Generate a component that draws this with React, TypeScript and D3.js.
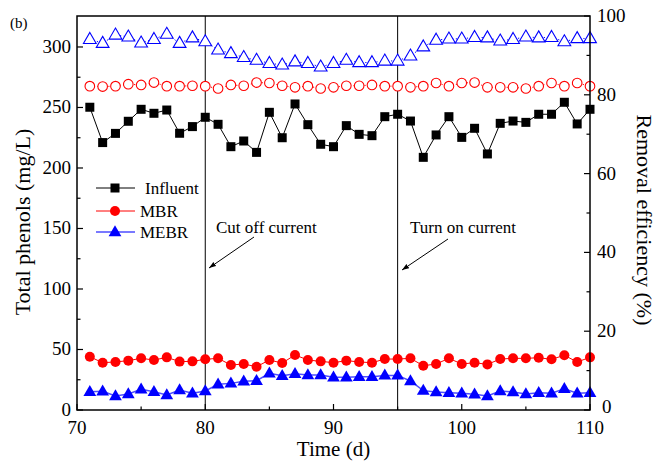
import React from "react";
import * as d3 from "d3";

const days = d3.range(71, 111);
const influent = [250.2, 221, 228.6, 238.6, 248.5, 245.2, 247.9, 228.7, 234.2, 241.9, 236.1, 217.6, 222.3, 212.9, 246, 225, 252.9, 235.8, 219.6, 217.6, 235, 227.8, 226.7, 242.4, 244.4, 238.8, 208.8, 227.3, 242.4, 225.3, 232.8, 211.6, 236.9, 238.8, 237.7, 244.4, 244.4, 254.3, 236.4, 248.5];
const mbr = [44, 39.1, 39.7, 40.8, 42.7, 41.3, 43.5, 40, 40.2, 41.9, 42.7, 37.2, 38, 35.8, 41.3, 38.8, 45.5, 41.3, 40.2, 39.1, 40.8, 39.7, 39.1, 42.1, 42.1, 42.7, 36.6, 38, 42.7, 38, 39.1, 37.7, 42.1, 42.7, 42.7, 43.2, 41.9, 45.2, 39.7, 43.5];
const mebr = [15.1, 15.4, 11.6, 13.2, 17.1, 15.1, 12.4, 16.5, 13.8, 15.7, 21.2, 22, 23.7, 24.2, 30.3, 28.3, 30, 28.9, 28.9, 27, 27, 27.5, 27.5, 28.6, 28.6, 24, 16, 14.9, 14.3, 13.8, 13, 11.6, 15.7, 14.9, 13.2, 14.3, 13.8, 17.6, 13.8, 14.3];
const mbrEff = [82.2, 82.1, 82.2, 82.7, 82.5, 83.1, 82.2, 82.2, 82.3, 82.2, 81.6, 82.5, 82.3, 83.1, 83, 82.3, 81.9, 82.2, 81.6, 81.9, 82.3, 82.3, 82.5, 82.2, 82.2, 81.9, 82.2, 83, 82.2, 83, 83.1, 81.9, 81.9, 81.9, 81.6, 82.2, 83, 82.2, 83, 82.2];
const mebrEff = [94.1, 93.1, 95.2, 94.7, 93.2, 94.1, 95.4, 93.1, 94.5, 93.5, 91.4, 90.5, 89.5, 88.8, 88, 87.6, 88.4, 88, 87.1, 88, 88.8, 88.2, 88.2, 88.6, 88.6, 89.9, 92.2, 93.9, 94.2, 94.2, 94.6, 94.5, 93.7, 94.1, 94.7, 94.5, 94.6, 93.5, 94.3, 94.3];

const xTicks = [70, 80, 90, 100, 110];
const xMinor = [75, 85, 95, 105];
const leftTicks = [0, 50, 100, 150, 200, 250, 300];
const leftMinor = [25, 75, 125, 175, 225, 275];
const rightTicks = [0, 20, 40, 60, 80, 100];
const rightMinor = [10, 30, 50, 70, 90];
const eventDays = [80, 95];
const legendLabels = ["Influent", "MBR", "MEBR"];

const W = 656, H = 468;
const L = 77, R = 590, T = 16, B = 410;
const FONT = "'Liberation Serif', 'Times New Roman', serif";

export default function App() {
  const x = d3.scaleLinear().domain([70, 110]).range([L, R]);
  const yL = d3.scaleLinear().domain([0, 325.6]).range([B, T]);
  const yR = d3.scaleLinear().domain([0, 100]).range([B, T]);

  const mkLine = (vals: number[], y: d3.ScaleLinear<number, number>) =>
    d3.line<number>().x((_, i) => x(days[i])).y((v) => y(v))(vals) || "";

  const tri = (cx: number, cy: number, s: number) =>
    `M${cx},${cy - s * 0.62}L${cx + s * 0.58},${cy + s * 0.38}L${cx - s * 0.58},${cy + s * 0.38}Z`;

  const blue = "#0000ff";
  const red = "#ff0000";

  return (
    <svg width={W} height={H} style={{ position: "absolute", left: 0, top: 0, background: "#fff" }} fontFamily={FONT}>
      <rect x={0} y={0} width={W} height={H} fill="#fff" />
      {eventDays.map((d) => (
        <line key={d} x1={x(d)} x2={x(d)} y1={T} y2={B} stroke="#000" strokeWidth={1} />
      ))}

      <path d={mkLine(mbrEff, yR)} fill="none" stroke={red} strokeWidth={1} strokeDasharray="1.2,2.5" />
      <path d={mkLine(mebrEff, yR)} fill="none" stroke={blue} strokeWidth={1} strokeDasharray="1.2,2.5" />
      {mbrEff.map((v, i) => (
        <circle key={"ce" + i} cx={x(days[i])} cy={yR(v)} r={4.8} fill="#fff" stroke={red} strokeWidth={1.1} />
      ))}
      {mebrEff.map((v, i) => (
        <path key={"te" + i} d={tri(x(days[i]), yR(v), 11)} fill="#fff" stroke={blue} strokeWidth={1.1} />
      ))}

      <path d={mkLine(influent, yL)} fill="none" stroke="#000" strokeWidth={1} />
      {influent.map((v, i) => (
        <rect key={"s" + i} x={x(days[i]) - 4.5} y={yL(v) - 4.5} width={9} height={9} fill="#000" />
      ))}
      <path d={mkLine(mbr, yL)} fill="none" stroke={red} strokeWidth={1} />
      {mbr.map((v, i) => (
        <circle key={"c" + i} cx={x(days[i])} cy={yL(v)} r={5} fill={red} />
      ))}
      <path d={mkLine(mebr, yL)} fill="none" stroke="#4d4dff" strokeWidth={1.5} />
      {mebr.map((v, i) => (
        <path key={"t" + i} d={tri(x(days[i]), yL(v), 11)} fill={blue} />
      ))}

      <rect x={L} y={T} width={R - L} height={B - T} fill="none" stroke="#000" strokeWidth={1.5} />

      {xTicks.map((t) => (
        <g key={"xt" + t}>
          <line x1={x(t)} x2={x(t)} y1={B} y2={B - 6} stroke="#000" strokeWidth={1.2} />
          <text x={x(t)} y={434} fontSize={19} textAnchor="middle">{t}</text>
        </g>
      ))}
      {xMinor.map((t) => (
        <line key={"xm" + t} x1={x(t)} x2={x(t)} y1={B} y2={B - 3.5} stroke="#000" strokeWidth={1.2} />
      ))}

      {leftTicks.map((t) => (
        <g key={"lt" + t}>
          <line x1={L} x2={L + 6} y1={yL(t)} y2={yL(t)} stroke="#000" strokeWidth={1.2} />
          <text x={71} y={yL(t) + 6} fontSize={19} textAnchor="end">{t}</text>
        </g>
      ))}
      {leftMinor.map((t) => (
        <line key={"lm" + t} x1={L} x2={L + 3.5} y1={yL(t)} y2={yL(t)} stroke="#000" strokeWidth={1.2} />
      ))}

      {rightTicks.map((t) => (
        <g key={"rt" + t}>
          <line x1={R} x2={R - 6} y1={yR(t)} y2={yR(t)} stroke="#000" strokeWidth={1.2} />
          <text x={t === 0 ? 602 : 597} y={yR(t) + (t === 0 ? 3 : 6)} fontSize={19} textAnchor="start">{t}</text>
        </g>
      ))}
      {rightMinor.map((t) => (
        <line key={"rm" + t} x1={R} x2={R - 3.5} y1={yR(t)} y2={yR(t)} stroke="#000" strokeWidth={1.2} />
      ))}

      <text x={(L + R) / 2} y={456} fontSize={21} textAnchor="middle">Time (d)</text>
      <text transform={`translate(30,222) rotate(-90)`} fontSize={22} textAnchor="middle">Total phenols (mg/L)</text>
      <text transform={`translate(637,220) rotate(90)`} fontSize={22} textAnchor="middle">Removal efficiency (%)</text>
      <text x={10} y={28} fontSize={15}>(b)</text>

      {legendLabels.map((lab, i) => {
        const cy = [188, 211, 232][i];
        const col = ["#000", red, "#4d4dff"][i];
        const cx = 115;
        return (
          <g key={lab}>
            <line x1={96} x2={135} y1={cy} y2={cy} stroke={col} strokeWidth={i === 2 ? 1.5 : 1} />
            {i === 0 && <rect x={cx - 4.5} y={cy - 4.5} width={9} height={9} fill="#000" />}
            {i === 1 && <circle cx={cx} cy={cy} r={5} fill={red} />}
            {i === 2 && <path d={tri(cx, cy, 11)} fill={blue} />}
            <text x={i === 0 ? 145 : 140} y={cy + 6} fontSize={17}>{lab}</text>
          </g>
        );
      })}

      <defs>
        <marker id="arr" viewBox="0 0 10 10" refX={10} refY={5} markerWidth={7} markerHeight={7} orient="auto" markerUnits="userSpaceOnUse">
          <path d="M0,1.5L10,5L0,8.5Z" fill="#000" />
        </marker>
      </defs>
      <text x={216} y={233} fontSize={17}>Cut off current</text>
      <line x1={254} y1={237} x2={209} y2={268} stroke="#000" strokeWidth={1} markerEnd="url(#arr)" />
      <text x={410} y={233} fontSize={17}>Turn on current</text>
      <line x1={448} y1={239} x2={402} y2={270} stroke="#000" strokeWidth={1} markerEnd="url(#arr)" />
    </svg>
  );
}
